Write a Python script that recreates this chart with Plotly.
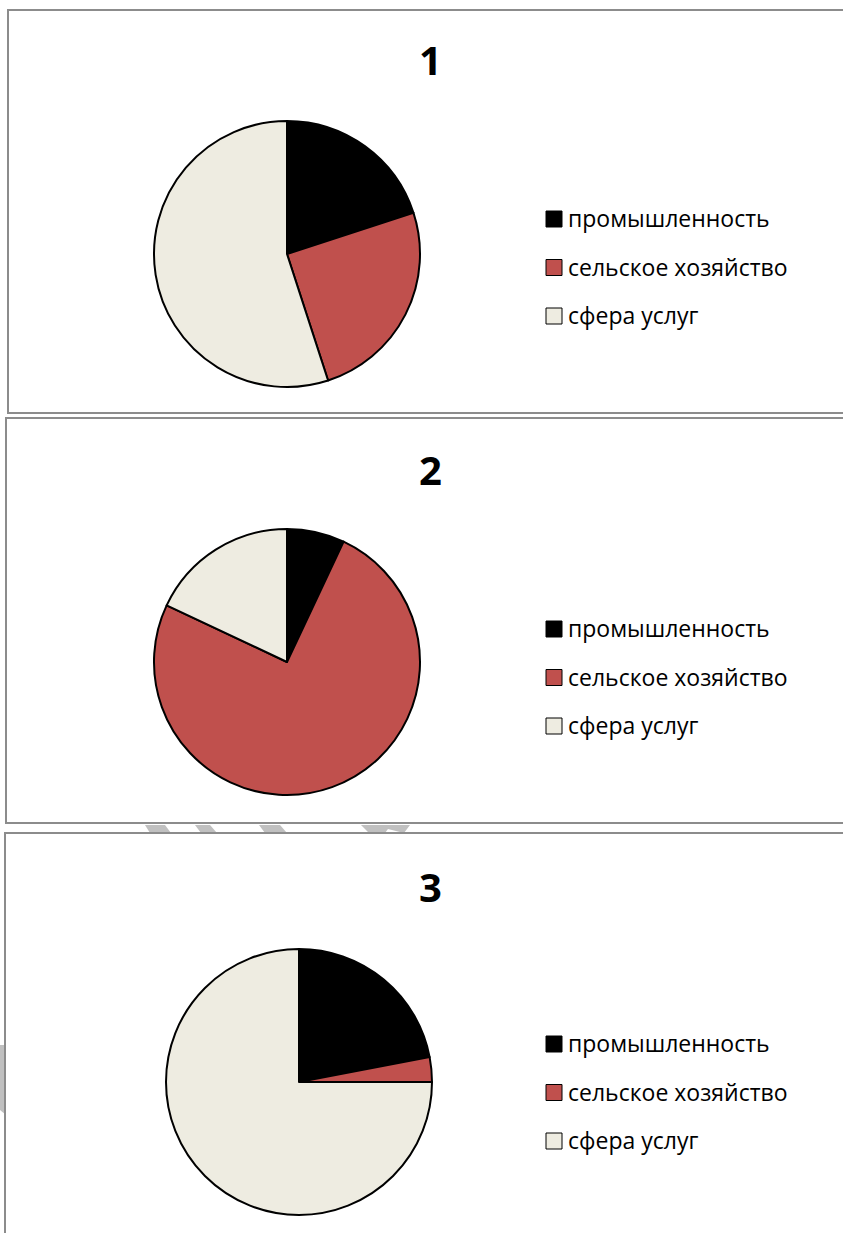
import plotly.graph_objects as go

W, H = 843, 1233

labels = ["промышленность", "сельское хозяйство", "сфера услуг"]
colors = ["#000000", "#C0504D", "#EEECE1"]
titles = ["1", "2", "3"]
values_1 = [20, 25, 55]
values_2 = [7, 75, 18]
values_3 = [22, 3, 75]
all_values = [values_1, values_2, values_3]

# layout in pixels: (pie centre x, pie centre y, radius, title y, legend top y, box top, box bottom, box left)
panels = [
    (287, 254, 133, 59, 219, 10, 413, 8),
    (287, 662, 133, 469, 629, 418, 823, 6),
    (299, 1082, 133, 886, 1044, 833, 1245, 5),
]


def px_x(x):
    return x / W


def px_y(y):
    return 1 - y / H


fig = go.Figure()
shapes = []
annotations = []

for vals, title, (cx, cy, r, ty, ly, bt, bb, bl) in zip(all_values, titles, panels):
    fig.add_trace(go.Pie(
        labels=labels, values=vals, sort=False, direction="clockwise", rotation=0,
        marker=dict(colors=colors, line=dict(color="#000000", width=2)),
        textinfo="none", showlegend=False,
        domain=dict(x=[px_x(cx - r), px_x(cx + r)], y=[px_y(cy + r), px_y(cy - r)]),
    ))
    # panel border
    shapes.append(dict(type="rect", xref="paper", yref="paper",
                       x0=px_x(bl), x1=px_x(860), y0=px_y(bb), y1=px_y(bt),
                       line=dict(color="#8c8c8c", width=2)))
    annotations.append(dict(text="<b>%s</b>" % title, x=px_x(430), y=px_y(ty),
                            xref="paper", yref="paper", showarrow=False,
                            xanchor="center", yanchor="middle",
                            font=dict(size=40, color="#000000")))
    # legend
    for i, (lab, col) in enumerate(zip(labels, colors)):
        yc = ly + i * 48.5
        shapes.append(dict(type="rect", xref="paper", yref="paper",
                           x0=px_x(546), x1=px_x(562), y0=px_y(yc + 8), y1=px_y(yc - 8),
                           fillcolor=col, line=dict(color="#000000", width=1)))
        annotations.append(dict(text=lab, x=px_x(566), y=px_y(yc - 1), xref="paper", yref="paper",
                                xanchor="left", yanchor="middle", showarrow=False,
                                font=dict(size=23, color="#000000")))

# faint watermark fragments
stripes = [
    "M 145 825 L 165 825 L 171 833 L 150 833 Z",
    "M 195 825 L 210 825 L 217 833 L 201 833 Z",
    "M 259 825 L 280 825 L 287 833 L 265 833 Z",
    "M 361 825 L 410 825 L 404 833 L 388 829 L 385 833 L 369 833 Z",
    "M 0 1045 L 6 1045 L 6 1115 L 0 1110 Z",
]
for p in stripes:
    parts = p.split()
    out = []
    j = 0
    while j < len(parts):
        if parts[j] in ("M", "L"):
            out.append("%s %.5f,%.5f" % (parts[j], px_x(float(parts[j + 1])), px_y(float(parts[j + 2]))))
            j += 3
        else:
            out.append(parts[j])
            j += 1
    shapes.append(dict(type="path", xref="paper", yref="paper", path=" ".join(out),
                       fillcolor="#c0c0c0", line=dict(width=0), layer="below"))

fig.update_layout(
    width=W, height=H, margin=dict(l=0, r=0, t=0, b=0),
    paper_bgcolor="white", plot_bgcolor="white",
    font=dict(family="Open Sans, DejaVu Sans, sans-serif"),
    shapes=shapes, annotations=annotations,
)

# page body has a default margin; drop it so the figure sits at the window's corner
fig.write_html("out.html", config={"displayModeBar": False},
               post_script="document.body.style.margin='0';")
